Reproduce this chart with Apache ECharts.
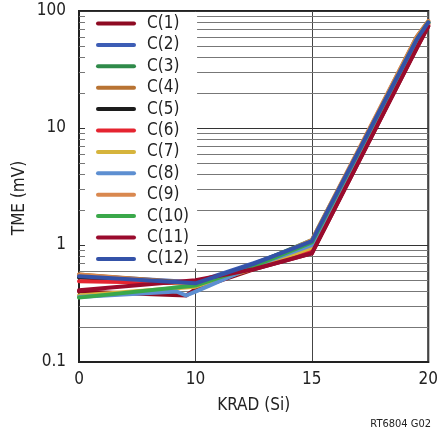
<!DOCTYPE html>
<html>
<head>
<meta charset="utf-8">
<script src="https://cdn.jsdelivr.net/npm/echarts@6/dist/echarts.min.js"></script>
<style>
html,body{margin:0;padding:0;background:#fff;}
#chart{width:441px;height:434px;}
</style>
</head>
<body>
<div id="chart"></div>
<script>
var FONT = "'Liberation Sans Narrow','DejaVu Sans Condensed',sans-serif";

// x tick labels (axis is not linear: 0,10,15,20 equally spaced)
var xTicks = [0, 10, 15, 20];
// minor log gridlines
var minorY = [0.2,0.3,0.4,0.5,0.6,0.7,0.8,0.9, 2,3,4,5,6,7,8,9, 20,30,40,50,60,70,80,90];

var names = ['C(1)','C(2)','C(3)','C(4)','C(5)','C(6)','C(7)','C(8)','C(9)','C(10)','C(11)','C(12)'];
var colors = ['#8e0a22','#3d5db5','#2f8a4a','#b87333','#1c1c1c','#e52430','#d6b43c','#5d8fd1','#d9884f','#3aa84a','#9a0b2d','#3452a8'];

// [KRAD, TME mV]
var c1  = [[0,0.40],[9.2,0.37],[10,0.42],[12.5,0.62],[15,0.85],[19.5,48],[20,74]];
var c2  = [[0,0.55],[10,0.48],[12.5,0.70],[15,1.05],[19.5,56],[20,80]];
var c3  = [[0,0.53],[10,0.46],[12.5,0.68],[15,1.10],[19.5,57],[20,79]];
var c4  = [[0,0.56],[10,0.47],[12.5,0.67],[15,1.05],[19.5,60],[20,82]];
var c5  = [[0,0.53],[10,0.47],[12.5,0.64],[15,0.95],[19.5,52],[20,78]];
var c6  = [[0,0.49],[10,0.47],[12.5,0.63],[15,0.90],[19.5,50],[20,76]];
var c7  = [[0,0.37],[10,0.44],[12.5,0.63],[15,0.95],[19.5,54],[20,78]];
var c8  = [[0,0.36],[8.4,0.40],[9.2,0.37],[10,0.40],[10.6,0.45],[12.5,0.66],[15,1.00],[19.5,56],[20,80]];
var c9  = [[0,0.56],[10,0.46],[12.5,0.66],[15,1.10],[19.5,60],[20,82]];
var c10 = [[0,0.355],[10,0.45],[12.5,0.66],[15,1.05],[19.5,57],[20,80]];
var c11 = [[0,0.41],[10,0.50],[12.5,0.62],[15,0.85],[19.5,48],[20,74]];
var c12 = [[0,0.54],[10,0.47],[12.5,0.69],[15,1.08],[19.5,57],[20,80]];
var curves = [c1,c2,c3,c4,c5,c6,c7,c8,c9,c10,c11,c12];

// KRAD -> axis position (0..3)
function pos(k){
	if (k <= 10) return k / 10;
	return 1 + (k - 10) / 5;
}

var chart = echarts.init(document.getElementById('chart'));

var series = [{
	name: 'grid',
	type: 'line',
	data: [],
	silent: true,
	markLine: {
		silent: true,
		symbol: 'none',
		z: 1,
		label: {show: false},
		lineStyle: {color: '#777', width: 1, type: 'solid'},
		data: minorY.map(function(v){ return {yAxis: v}; })
	}
}];
for (var i = 0; i < curves.length; i++) {
	series.push({
		name: names[i],
		type: 'line',
		symbol: 'none',
		color: colors[i],
		lineStyle: {width: 4, color: colors[i], cap: 'round', join: 'round'},
		data: curves[i].map(function(p){ return [pos(p[0]), p[1]]; })
	});
}

// 图例: 线形图标
var legendIcon = 'path://M2,0L38,0A2,2,0,0,1,38,4L2,4A2,2,0,0,1,2,0Z';

var option = {
	animation: false,
	backgroundColor: '#fff',
	grid: {left: 79, right: 10, top: 11, bottom: 72, show: true, borderColor: '#222', borderWidth: 2, backgroundColor: 'transparent'},
	legend: {
		data: names,
		icon: legendIcon,
		symbolKeepAspect: true,
		orient: 'vertical',
		left: 85,
		top: 12,
		padding: [3, 8, 1, 11],
		itemWidth: 40,
		itemHeight: 14,
		itemGap: 4.4,
		backgroundColor: '#fff',
		textStyle: {fontFamily: FONT, fontSize: 17, color: '#222', padding: [0,0,0,6]}
	},
	xAxis: {
		type: 'value', min: 0, max: 3, interval: 1,
		axisLine: {lineStyle: {color: '#222', width: 2}},
		axisTick: {show: false},
		axisLabel: {fontFamily: FONT, fontSize: 17, color: '#222', margin: 9,
			formatter: function(v){ return String(xTicks[Math.round(v)]); }},
		splitLine: {show: true, lineStyle: {color: '#444', width: 1}},
		name: 'KRAD (Si)', nameLocation: 'middle', nameGap: 35,
		nameTextStyle: {fontFamily: FONT, fontSize: 17, color: '#222'}
	},
	yAxis: {
		type: 'log', min: 0.1, max: 100, logBase: 10,
		axisLine: {show: true, lineStyle: {color: '#222', width: 2}},
		axisTick: {show: false},
		axisLabel: {fontFamily: FONT, fontSize: 17, color: '#222', margin: 13},
		splitLine: {show: true, lineStyle: {color: '#333', width: 1}}
	},
	graphic: [
		{type: 'text', x: 20, y: 198, rotation: Math.PI / 2,
			style: {text: 'TME (mV)', fontFamily: FONT, fontSize: 17, fill: '#222', align: 'center', verticalAlign: 'middle'}},
		{type: 'text', x: 431, y: 424,
			style: {text: 'RT6804 G02', fontFamily: FONT, fontSize: 11, fill: '#222', align: 'right', verticalAlign: 'middle'}}
	],
	series: series
};
chart.setOption(option);
</script>
</body>
</html>
